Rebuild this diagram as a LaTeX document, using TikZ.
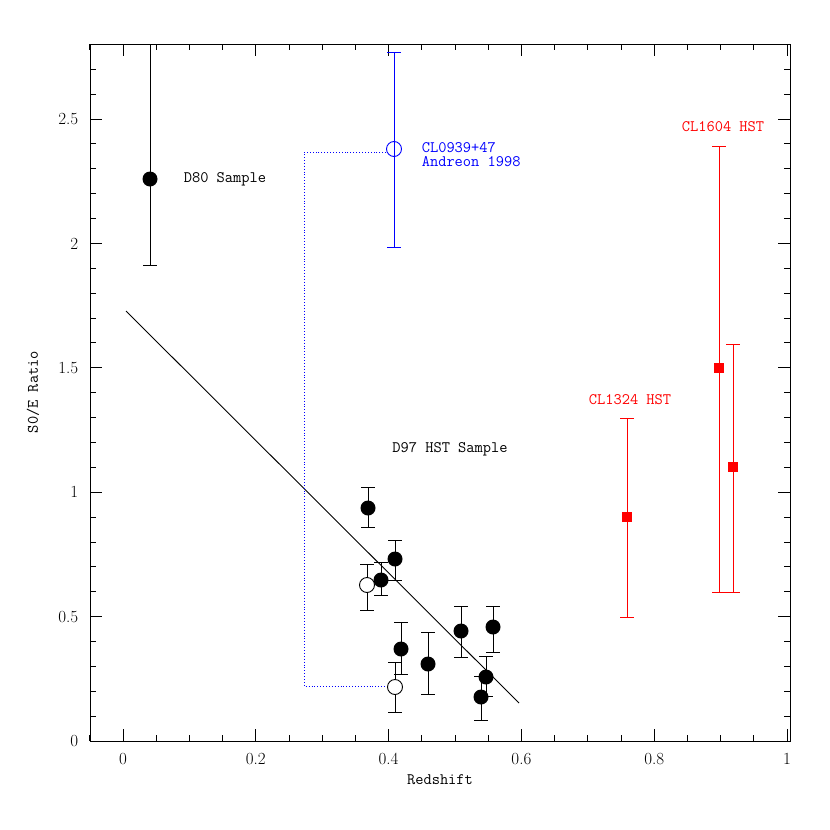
\documentclass[tikz,border=0pt]{standalone}
\begin{document}
\begin{tikzpicture}[x=1pt,y=-1pt,line width=0.9pt,
  pt/.style={circle,fill=black,inner sep=0,minimum size=15pt},
  opt/.style={circle,draw,inner sep=0,minimum size=15pt,fill=white},
  sq/.style={rectangle,fill=red,inner sep=0,minimum size=10pt},
  lab/.style={font=\ttfamily\fontsize{16}{14}\selectfont,anchor=west},
  tl/.style={font=\fontsize{17}{18}\selectfont}]
\useasboundingbox (0,0) rectangle (830,830);
% frame
\draw (90,44) rectangle (790,741);
% x ticks
\foreach \i in {-1,...,20}{
  \pgfmathsetmacro\xx{123+33.2*\i}
  \draw (\xx,741) -- (\xx,735) (\xx,44) -- (\xx,50);}
\foreach \i in {0,...,5}{
  \pgfmathsetmacro\xx{123+132.8*\i}
  \draw (\xx,741) -- (\xx,729) (\xx,44) -- (\xx,56);}
\foreach \v/\t in {0/0,1/0.2,2/0.4,3/0.6,4/0.8,5/1}
  \node[tl] at (123+132.8*\v,759) {\t};
% y ticks
\foreach \i in {0,...,28}{
  \pgfmathsetmacro\yy{741-24.88*\i}
  \draw (90,\yy) -- (96,\yy) (790,\yy) -- (784,\yy);}
\foreach \i in {0,...,5}{
  \pgfmathsetmacro\yy{741-124.4*\i}
  \draw (90,\yy) -- (102,\yy) (790,\yy) -- (778,\yy);}
\foreach \v/\t in {0/0,1/0.5,2/1,3/1.5,4/2,5/2.5}
  \node[tl,anchor=east] at (82,741-124.4*\v) {\t};
\node[lab,anchor=center] at (440,780) {Redshift};
\node[lab,anchor=center,rotate=90] at (33,392) {S0/E Ratio};
% fit line
\coordinate (f1) at (126,311); \coordinate (f2) at (519,703);
\draw (f1) -- (f2);
% dotted blue
\coordinate (d1) at (386,152); \coordinate (d2) at (304,152);
\coordinate (d3) at (304,686); \coordinate (d4) at (386,686);
\draw[blue,dotted] (d1) -- (d2) -- (d3) -- (d4);
% error bars
\foreach \x/\a/\b in {368/487/527,381/562/595,395/540/580,401/622/674,428/632/694,461/606/657,486/656/696,481/676/720,493/606/652,367/564/610,395/662/712}
  \draw (\x,\a) -- (\x,\b) (\x-7,\a) -- (\x+7,\a) (\x-7,\b) -- (\x+7,\b);
\draw (150,44) -- (150,265) (143,265) -- (157,265);
\draw[blue] (394,52) -- (394,247) (387,52) -- (401,52) (387,247) -- (401,247);
\foreach \x/\a/\b in {627/418/617,719/146/592,733/344/592}
  \draw[red] (\x,\a) -- (\x,\b) (\x-7,\a) -- (\x+7,\a) (\x-7,\b) -- (\x+7,\b);
% points
\node[opt] (o1) at (367,585) {};
\node[opt] (o2) at (395,687) {};
\foreach \n/\x/\y in {p1/368/508,p2/381/580,p3/395/559,p4/401/649,p5/428/664,p6/461/631,p7/486/677,p8/481/697,p9/493/627,p0/150/179}
  \node[pt] (\n) at (\x,\y) {};
\node[opt,draw=blue,fill=none] (b1) at (394,149) {};
\node[sq] (r1) at (627,517) {};
\node[sq] (r2) at (719,368) {};
\node[sq] (r3) at (733,467) {};
% labels
\node[lab] at (180,179) {D80 Sample};
\node[lab,blue] at (418,148) {CL0939+47};
\node[lab,blue] at (418,162) {Andreon 1998};
\node[lab,anchor=center] at (450,449) {D97 HST Sample};
\node[lab,anchor=center,red] at (630,400) {CL1324 HST};
\node[lab,anchor=center,red] at (723,127) {CL1604 HST};
\end{tikzpicture}
\end{document}
